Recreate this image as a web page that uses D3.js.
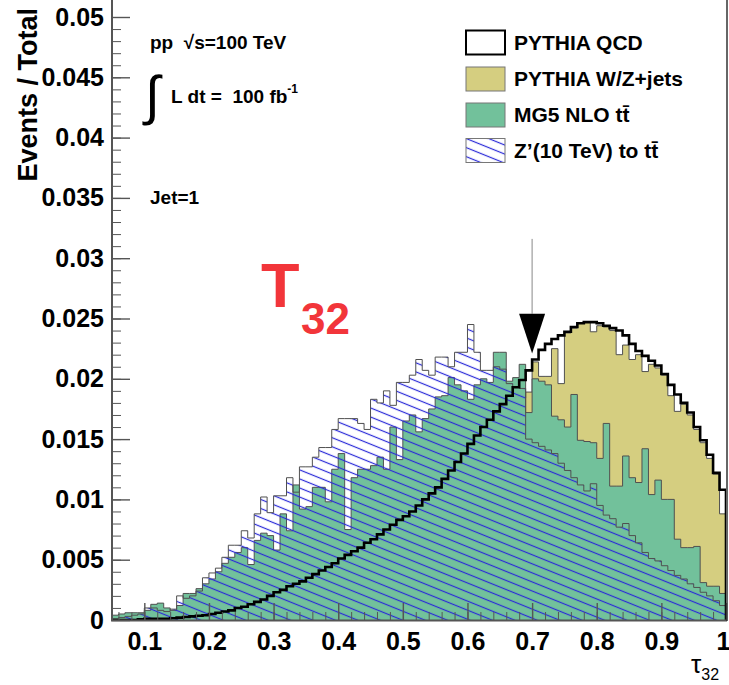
<!DOCTYPE html>
<html>
<head>
<meta charset="utf-8">
<script src="https://cdn.jsdelivr.net/npm/d3@7"></script>
<style>
  body { margin: 0; background: #fff; }
  text { font-family: "Liberation Sans", Arial, sans-serif; }
</style>
</head>
<body>
<svg id="chart" width="729" height="685"></svg>
<script>
// Histogram binning: 95 bins of width 0.01 from 0.05 to 1.0
const binStart = 0.05;
const binWidth = 0.01;

// PYTHIA QCD (black outline)
const qcd = [
  0, 0, 0, 0, 0.00005,
  0.0001, 0.0001, 0.0001, 0.0001, 0.00015,
  0.0002, 0.00025, 0.0003, 0.00035, 0.0004,
  0.0005, 0.0006, 0.0007, 0.0008, 0.0010,
  0.0011, 0.0013, 0.0015, 0.0017, 0.0020,
  0.0023, 0.0025, 0.0028, 0.0030, 0.0032,
  0.0035, 0.0038, 0.0041, 0.0044, 0.0047,
  0.0051, 0.0054, 0.0057, 0.0060, 0.0064,
  0.0067, 0.0071, 0.0075, 0.0079, 0.0083,
  0.0086, 0.0090, 0.0095, 0.0100, 0.0105,
  0.0110, 0.0117, 0.0124, 0.0131, 0.0138,
  0.0146, 0.0153, 0.0160, 0.0166, 0.0173,
  0.0179, 0.0186, 0.0193, 0.0199, 0.0207,
  0.0216, 0.0224, 0.0229, 0.0233, 0.0236,
  0.0239, 0.0243, 0.0246, 0.0247, 0.0247,
  0.0246, 0.0244, 0.0242, 0.0240, 0.0236,
  0.0229, 0.0223, 0.0219, 0.0215, 0.0211,
  0.0204, 0.0195, 0.0187, 0.0180, 0.0172,
  0.0160, 0.0149, 0.0137, 0.0122, 0.0108
];

// PYTHIA W/Z+jets (yellow fill)
const wzjets = [
  0.0003, 0.0002, 0.0001, 0.0001, 0.0001,
  0.0001, 0.0001, 0.0001, 0.0001, 0.0001,
  0.0002, 0.0002, 0.0003, 0.0003, 0.0004,
  0.0004, 0.0005, 0.0006, 0.0007, 0.0009,
  0.0010, 0.0012, 0.0014, 0.0016, 0.0018,
  0.0021, 0.0023, 0.0025, 0.0027, 0.0030,
  0.0032, 0.0035, 0.0038, 0.0040, 0.0043,
  0.0047, 0.0050, 0.0052, 0.0055, 0.0059,
  0.0062, 0.0065, 0.0069, 0.0073, 0.0076,
  0.0079, 0.0083, 0.0087, 0.0092, 0.0097,
  0.0101, 0.0108, 0.0114, 0.0120, 0.0127,
  0.0134, 0.0141, 0.0147, 0.0153, 0.0159,
  0.0165, 0.0171, 0.0178, 0.0184, 0.0189,
  0.0214, 0.0202, 0.0202, 0.0225, 0.0196,
  0.0238, 0.0242, 0.0246, 0.0247, 0.0239,
  0.0244, 0.0243, 0.0240, 0.0220, 0.0228,
  0.0216, 0.0220, 0.0206, 0.0212, 0.0209,
  0.0203, 0.0186, 0.0173, 0.0179, 0.0170,
  0.0158, 0.0147, 0.0134, 0.0121, 0.0088
];

// MG5 NLO ttbar (green fill)
const ttbar = [
  0.0004, 0.0005, 0.0006, 0.0006, 0.0006,
  0.0008, 0.0013, 0.0014, 0.0010, 0.0008,
  0.0012, 0.0022, 0.0022, 0.0026, 0.0030,
  0.0034, 0.0040, 0.0047, 0.0052, 0.0056,
  0.0060, 0.0046, 0.0066, 0.0072, 0.0070,
  0.0058, 0.0088, 0.0074, 0.0112, 0.0092,
  0.0094, 0.0110, 0.0110, 0.0098, 0.0125,
  0.0138, 0.0075, 0.0118, 0.0125, 0.0125,
  0.0128, 0.0135, 0.0125, 0.0160, 0.0133,
  0.0165, 0.0170, 0.0156, 0.0167, 0.0175,
  0.0185, 0.0186, 0.0201, 0.0195, 0.0190,
  0.0183, 0.0195, 0.0200, 0.0197, 0.0222,
  0.0222, 0.0198, 0.0201, 0.0212, 0.0172,
  0.0200, 0.0198, 0.0195, 0.0169, 0.0166,
  0.0160, 0.0187, 0.0149, 0.0148, 0.0147,
  0.0134, 0.0163, 0.0111, 0.0111, 0.0136,
  0.0118, 0.0114, 0.0142, 0.0104, 0.0116,
  0.0100, 0.0100, 0.0067, 0.0060, 0.0060,
  0.0061, 0.0031, 0.0028, 0.0028, 0.0022
];

// Z'(10 TeV) to ttbar (blue hatch)
const zprime = [
  0.0001, 0.0002, 0.0003, 0.0004, 0.0005,
  0.0010, 0.0010, 0.0008, 0.0007, 0.0009,
  0.0020, 0.0018, 0.0020, 0.0024, 0.0035,
  0.0039, 0.0043, 0.0052, 0.0062, 0.0062,
  0.0074, 0.0068, 0.0088, 0.0102, 0.0089,
  0.0103, 0.0103, 0.0118, 0.0106, 0.0127,
  0.0127, 0.0135, 0.0143, 0.0143, 0.0158,
  0.0167, 0.0167, 0.0167, 0.0163, 0.0158,
  0.0183, 0.0180, 0.0190, 0.0178, 0.0197,
  0.0197, 0.0203, 0.0216, 0.0207, 0.0203,
  0.0218, 0.0218, 0.0210, 0.0222, 0.0222,
  0.0245, 0.0222, 0.0207, 0.0207, 0.0210,
  0.0208, 0.0196, 0.0193, 0.0192, 0.0150,
  0.0147, 0.0144, 0.0141, 0.0138, 0.0130,
  0.0124, 0.0118, 0.0112, 0.0107, 0.0113,
  0.0095, 0.0087, 0.0084, 0.0077, 0.0080,
  0.0070, 0.0064, 0.0056, 0.0051, 0.0049,
  0.0045, 0.0041, 0.0037, 0.0034, 0.0030,
  0.0027, 0.0023, 0.0020, 0.0016, 0.0012
];

const yTicks = [0, 0.005, 0.01, 0.015, 0.02, 0.025, 0.03, 0.035, 0.04, 0.045, 0.05];
const xTicks = [0.1, 0.2, 0.3, 0.4, 0.5, 0.6, 0.7, 0.8, 0.9, 1];
const legendLabels = ["PYTHIA QCD", "PYTHIA W/Z+jets", "MG5 NLO t\u0074\u0304", "Z\u2019(10 TeV) to t\u0074\u0304"];
const cutValue = 0.7;

const colors = { wz: "#d5ce80", tt: "#72c19b", hatch: "#2a2ad8", edge: "#505050" };

const svg = d3.select("#chart");
const x = d3.scaleLinear().domain([0.05, 1]).range([112, 726]);
const y = d3.scaleLinear().domain([0, 0.05]).range([620, 17]);

// hatch pattern for the Z' sample
const defs = svg.append("defs");
const pat = defs.append("pattern")
  .attr("id", "hatch")
  .attr("patternUnits", "userSpaceOnUse")
  .attr("width", 20).attr("height", 8.4)
  .attr("patternTransform", "rotate(22)");
pat.append("line")
  .attr("x1", 0).attr("x2", 20).attr("y1", 4.2).attr("y2", 4.2)
  .attr("stroke", colors.hatch).attr("stroke-width", 1.2);

defs.append("clipPath").attr("id", "plotclip")
  .append("rect").attr("x", 112).attr("y", 0).attr("width", 614).attr("height", 620);

// step points for a histogram
function steps(vals) {
  const pts = [];
  vals.forEach((v, i) => {
    const lo = +(binStart + i * binWidth).toFixed(2);
    pts.push([lo, v], [+(lo + binWidth).toFixed(2), v]);
  });
  return pts;
}
function outlinePts(vals) {
  const pts = steps(vals);
  return [[pts[0][0], 0], ...pts, [pts[pts.length - 1][0], 0]];
}

const area = d3.area().x(d => x(d[0])).y0(y(0)).y1(d => y(d[1]));
const line = d3.line().x(d => x(d[0])).y(d => y(d[1]));

const plot = svg.append("g").attr("clip-path", "url(#plotclip)");

plot.append("path").attr("d", area(steps(qcd))).attr("fill", "#fff");

plot.append("path").attr("d", area(steps(wzjets))).attr("fill", colors.wz);
plot.append("path").attr("d", line(outlinePts(wzjets)))
  .attr("fill", "none").attr("stroke", colors.edge).attr("stroke-width", 1);

plot.append("path").attr("d", area(steps(ttbar))).attr("fill", colors.tt);
plot.append("path").attr("d", line(outlinePts(ttbar)))
  .attr("fill", "none").attr("stroke", colors.edge).attr("stroke-width", 1);

plot.append("path").attr("d", area(steps(zprime))).attr("fill", "url(#hatch)");
plot.append("path").attr("d", line(outlinePts(zprime)))
  .attr("fill", "none").attr("stroke", colors.edge).attr("stroke-width", 1);

plot.append("path").attr("d", line(outlinePts(qcd)))
  .attr("fill", "none").attr("stroke", "#000").attr("stroke-width", 2.6)
  .attr("stroke-linejoin", "miter");

// axes
const fmtY = d => d === 0 ? "0" : String(+d.toFixed(3));
const yMinor = d3.range(0, 51).map(i => i / 1000);
const xMinor = d3.range(6, 101, 2).map(i => i / 100);

svg.append("g").attr("transform", "translate(112,0)").attr("color", "#555")
  .call(d3.axisLeft(y).tickValues(yMinor).tickSize(-9).tickSizeOuter(0).tickFormat(""))
  .call(g => g.select(".domain").remove());
const yAx = svg.append("g").attr("transform", "translate(112,0)").attr("color", "#555")
  .call(d3.axisLeft(y).tickValues(yTicks).tickSize(-18).tickSizeOuter(0).tickPadding(8).tickFormat(fmtY));
yAx.select(".domain").remove();
yAx.selectAll("line").attr("stroke-width", 1.4);
yAx.selectAll("text").attr("fill", "#000").style("font-size", "25px").style("font-weight", "bold");

svg.append("g").attr("transform", "translate(0,620)").attr("color", "#555")
  .call(d3.axisBottom(x).tickValues(xMinor).tickSize(-8).tickSizeOuter(0).tickFormat(""))
  .call(g => g.select(".domain").remove());
const xAx = svg.append("g").attr("transform", "translate(0,620)").attr("color", "#555")
  .call(d3.axisBottom(x).tickValues(xTicks).tickSize(-17).tickSizeOuter(0).tickPadding(12).tickFormat(d => String(d)));
xAx.select(".domain").remove();
xAx.selectAll("line").attr("stroke-width", 1.4);
xAx.selectAll("text").attr("fill", "#000").style("font-size", "25px").style("font-weight", "bold")
  .attr("dx", d => d === 1 ? -3 : 0);

// frame lines
svg.append("line").attr("x1", 112).attr("x2", 112).attr("y1", 0).attr("y2", 621)
  .attr("stroke", "#555").attr("stroke-width", 2);
svg.append("line").attr("x1", 111).attr("x2", 727).attr("y1", 620.5).attr("y2", 620.5)
  .attr("stroke", "#555").attr("stroke-width", 2);
svg.append("line").attr("x1", 727).attr("x2", 727).attr("y1", 0).attr("y2", 621)
  .attr("stroke", "#333").attr("stroke-width", 1.5);

// axis titles
svg.append("text").attr("transform", "translate(37,8) rotate(-90)")
  .attr("text-anchor", "end").style("font-size", "27px").style("font-weight", "bold")
  .text("Events / Total");
const xt = svg.append("text").attr("x", 691).attr("y", 673).style("font-size", "26px");
xt.append("tspan").text("\u03c4");
xt.append("tspan").attr("dy", 7).style("font-size", "16px").text("32");

// cut arrow
const ax = x(cutValue);
svg.append("line").attr("x1", ax).attr("x2", ax).attr("y1", y(0.0316)).attr("y2", y(0.0254))
  .attr("stroke", "#888").attr("stroke-width", 1);
svg.append("path")
  .attr("d", `M${ax - 13},${y(0.0254)} L${ax + 13},${y(0.0254)} L${ax},${y(0.0221)} Z`)
  .attr("fill", "#000");

// annotations
const note = svg.append("g").style("font-weight", "bold").style("font-size", "19px");
note.append("text").attr("x", 150).attr("y", 49).text("pp\u00a0\u00a0\u221as=100 TeV");
note.append("text").attr("x", 145).attr("y", 114).style("font-size", "54px")
  .style("font-weight", "normal").text("\u222b");
const lum = note.append("text").attr("x", 171).attr("y", 103);
lum.append("tspan").text("L dt =\u00a0\u00a0100 fb");
lum.append("tspan").attr("dy", -10).style("font-size", "12px").text("-1");
note.append("text").attr("x", 150).attr("y", 204).text("Jet=1");

const tau = svg.append("g").attr("fill", "#f2353a").style("font-weight", "bold");
tau.append("text").attr("x", 261).attr("y", 307).style("font-size", "63px").text("T");
tau.append("text").attr("x", 301).attr("y", 334).style("font-size", "44px").text("32");

// legend
const leg = svg.append("g");
const rowY = [42.5, 79, 115, 150.5];
const boxFill = ["#fff", colors.wz, colors.tt, "url(#hatch)"];
legendLabels.forEach((lab, i) => {
  if (i === 3) {
    leg.append("rect").attr("x", 466).attr("y", rowY[i] - 12).attr("width", 39).attr("height", 24).attr("fill", "#fff");
  }
  leg.append("rect").attr("x", 466).attr("y", rowY[i] - 12).attr("width", 39).attr("height", 24)
    .attr("fill", boxFill[i])
    .attr("stroke", i === 0 ? "#000" : "#777")
    .attr("stroke-width", i === 0 ? 2 : 1);
  leg.append("text").attr("x", 514).attr("y", rowY[i] + 7)
    .style("font-size", "21px").style("font-weight", "bold").text(lab);
});
</script>
</body>
</html>
